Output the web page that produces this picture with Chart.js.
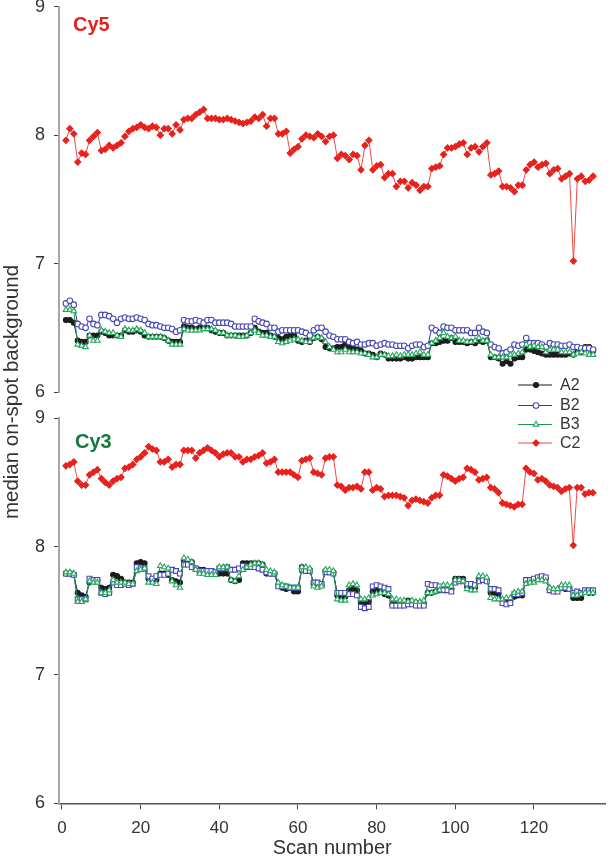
<!DOCTYPE html>
<html><head><meta charset="utf-8">
<script src="https://cdn.jsdelivr.net/npm/chart.js@4.4.1/dist/chart.umd.min.js"></script>
<style>
html,body{margin:0;padding:0;background:#fff;}
#wrap{position:relative;width:610px;height:858px;}
#wrap canvas{position:absolute;left:0;top:0;}
</style></head><body>
<div id="wrap"><canvas id="cTop" width="610" height="858"></canvas><canvas id="cBot" width="610" height="858"></canvas></div>
<script>
// ---------- data ----------
const scans = Array.from({length:135}, (_, i) => i + 1);
const xTicks = [0, 20, 40, 60, 80, 100, 120];
const yTicks = [6, 7, 8, 9];
const seriesNames = ['A2', 'B2', 'B3', 'C2'];

const cy5_A2 = [6.56,6.56,6.54,6.40,6.39,6.39,6.44,6.44,6.44,6.47, 6.46,6.44,6.44,6.44,6.44,6.48,6.47,6.47,6.48,6.47, 6.44,6.43,6.43,6.43,6.43,6.42,6.40,6.39,6.39,6.39, 6.51,6.50,6.50,6.49,6.50,6.50,6.50,6.48,6.47,6.46, 6.46,6.44,6.44,6.44,6.44,6.44,6.44,6.46,6.50,6.47, 6.46,6.46,6.44,6.43,6.42,6.41,6.43,6.44,6.44,6.40, 6.39,
  6.40,6.39,6.42,6.43,6.41,6.35,6.34,6.34,6.35, 6.35,6.37,6.35,6.34,6.33,6.32,6.30,6.30,6.29,6.27, 6.30,6.29,6.26,6.26,6.26,6.26,6.27,6.26,6.26,6.27, 6.27,6.27,6.27,6.38,6.38,6.39,6.40,6.40,6.42,6.39, 6.39,6.39,6.38,6.39,6.38,6.40,6.39,6.40,6.27,6.27, 6.26,6.22,6.24,6.22,6.26,6.27,6.27,6.33,6.33,6.32, 6.31,6.30,6.29,6.29,6.29,6.29,6.29,6.29,6.30,6.29, 6.31,6.31,6.35,6.35,6.32];
const cy5_B2 = [6.69,6.71,6.68,6.53,6.51,6.50,6.57,6.53,6.52,6.60, 6.60,6.59,6.57,6.54,6.57,6.58,6.57,6.57,6.58,6.57, 6.56,6.53,6.52,6.52,6.51,6.50,6.50,6.49,6.47,6.48, 6.56,6.55,6.55,6.56,6.55,6.54,6.56,6.56,6.54,6.54, 6.54,6.54,6.53,6.51,6.51,6.51,6.51,6.51,6.57,6.55, 6.54,6.53,6.50,6.50,6.47,6.48,6.48,6.48,6.48,6.48, 6.47,
  6.46,6.44,6.48,6.50,6.50,6.47,6.44,6.43,6.41, 6.41,6.41,6.39,6.38,6.39,6.37,6.37,6.38,6.38,6.36, 6.37,6.38,6.37,6.37,6.36,6.36,6.36,6.34,6.36,6.37, 6.37,6.35,6.36,6.50,6.48,6.46,6.51,6.50,6.50,6.48, 6.48,6.48,6.48,6.46,6.46,6.50,6.47,6.46,6.37,6.35, 6.34,6.30,6.31,6.33,6.37,6.36,6.37,6.42,6.38,6.38, 6.38,6.37,6.35,6.38,6.37,6.37,6.36,6.36,6.37,6.35, 6.35,6.34,6.34,6.34,6.33];
const cy5_B3 = [6.64,6.64,6.63,6.37,6.36,6.35,6.44,6.40,6.40,6.48, 6.47,6.46,6.46,6.44,6.43,6.49,6.48,6.48,6.49,6.48, 6.46,6.43,6.43,6.43,6.43,6.42,6.40,6.37,6.37,6.37, 6.49,6.48,6.48,6.48,6.48,6.49,6.49,6.49,6.48,6.46, 6.46,6.44,6.44,6.44,6.43,6.43,6.44,6.46,6.48,6.46, 6.44,6.44,6.43,6.43,6.39,6.38,6.39,6.40,6.41,6.41, 6.40,
  6.39,6.39,6.42,6.43,6.42,6.39,6.35,6.33,6.31, 6.31,6.33,6.31,6.31,6.31,6.30,6.30,6.29,6.27,6.27, 6.29,6.29,6.28,6.28,6.29,6.28,6.29,6.29,6.29,6.30, 6.31,6.29,6.29,6.38,6.40,6.42,6.46,6.43,6.42,6.43, 6.40,6.40,6.39,6.39,6.40,6.42,6.40,6.40,6.29,6.27, 6.27,6.27,6.27,6.29,6.29,6.30,6.31,6.37,6.35,6.36, 6.35,6.35,6.31,6.33,6.33,6.33,6.31,6.31,6.31,6.29, 6.30,6.31,6.30,6.29,6.29];
const cy5_C2 = [7.96,8.05,8.01,7.79,7.86,7.85,7.96,7.99,8.02,7.88, 7.89,7.92,7.90,7.92,7.94,7.99,8.03,8.05,8.06,8.08, 8.06,8.05,8.07,8.06,8.00,8.05,8.05,8.01,8.08,8.04, 8.12,8.13,8.13,8.16,8.18,8.20,8.13,8.13,8.13,8.12, 8.12,8.13,8.12,8.11,8.10,8.09,8.10,8.11,8.14,8.13, 8.16,8.07,8.13,8.13,8.01,8.01,8.03,7.86,7.89,7.91, 7.97,8.00,7.99,7.98,8.01,7.99,7.95,7.99,8.00,7.82, 7.85,7.84,7.81,7.85,7.84,7.73,7.92,7.96,7.73,7.76, 7.77,7.67,7.70,7.70,7.60,7.64,7.64,7.59,7.63,7.61, 7.57,7.60,7.60,7.74,7.75,7.76,7.85,7.90,7.90,7.91, 7.93,7.94,7.85,7.90,7.91,7.87,7.91,7.94,7.69,7.70, 7.72,7.60,7.60,7.59,7.56,7.61,7.61,7.73,7.77,7.79, 7.75,7.77,7.78,7.70,7.73,7.74,7.66,7.68,7.70,7.02, 7.66,7.68,7.64,7.65,7.68];

const cy3_A2 = [7.79,7.79,7.78,7.64,7.62,7.61,7.72,7.74,7.74,7.68, 7.67,7.68,7.78,7.77,7.75,7.72,7.72,7.72,7.87,7.88, 7.87,7.75,7.74,7.74,7.79,7.79,7.78,7.74,7.73,7.72, 7.89,7.88,7.88,7.83,7.82,7.82,7.79,7.80,7.79,7.79, 7.79,7.79,7.74,7.73,7.74,7.87,7.87,7.87,7.87,7.87, 7.86,7.79,7.79,7.79,7.70,7.68,7.67,7.68,7.65,7.65, 7.84,
  7.82,7.82, 7.71,7.71,7.70, 7.81,7.80,7.80, 7.62,7.61,7.61, 7.66,7.67,7.66, 7.56,7.56,7.57, 7.65,7.66,7.65,7.63,7.62, 7.55,7.55,7.55,7.56,7.58,7.57,7.56,7.56,7.56, 7.64,7.64,7.65,7.66, 7.68,7.68,7.67, 7.75,7.75,7.75, 7.69,7.69,7.68, 7.75,7.74,7.74, 7.64,7.64,7.63, 7.58,7.57,7.58, 7.61,7.62,7.62, 7.73,7.74,7.74, 7.76,7.76,7.75, 7.67,7.66,7.66, 7.68,7.67,7.67, 7.60,7.60,7.60, 7.65,7.64,7.64];
const cy3_B2 = [7.79,7.79,7.78,7.59,7.59,7.59,7.75,7.74,7.74,7.64, 7.63,7.64,7.72,7.70,7.70,7.71,7.70,7.71,7.84,7.83, 7.83,7.77,7.75,7.77,7.78,7.78,7.79,7.82,7.81,7.79, 7.86,7.86,7.84,7.83,7.81,7.81,7.81,7.81,7.80,7.83, 7.83,7.84,7.82,7.82,7.83,7.85,7.84,7.84,7.84,7.83, 7.82,7.80,7.79,7.79,7.69,7.69,7.69,7.68,7.68,7.68, 7.82,
  7.81,7.81, 7.72,7.72,7.71, 7.80,7.80,7.79, 7.64,7.64,7.64, 7.63,7.63,7.62, 7.53,7.52,7.53, 7.69,7.70,7.69,7.68,7.67, 7.54,7.54,7.54,7.54,7.55,7.55,7.54,7.54,7.54, 7.71,7.70,7.70,7.69, 7.66,7.66,7.65, 7.72,7.73,7.73, 7.71,7.71,7.70, 7.73,7.74,7.73, 7.67,7.67,7.66, 7.56,7.55,7.56, 7.63,7.63,7.64, 7.74,7.74,7.75, 7.76,7.77,7.76, 7.66,7.65,7.65, 7.68,7.68,7.67, 7.64,7.65,7.64, 7.66,7.66,7.66];
const cy3_B3 = [7.80,7.80,7.79,7.57,7.57,7.59,7.73,7.72,7.72,7.64, 7.64,7.66,7.74,7.72,7.72,7.72,7.71,7.71,7.81,7.82, 7.83,7.72,7.72,7.71,7.85,7.84,7.83,7.73,7.70,7.68, 7.91,7.90,7.88,7.82,7.79,7.79,7.78,7.78,7.78,7.84, 7.84,7.84,7.74,7.73,7.77,7.82,7.84,7.86,7.87,7.87, 7.86,7.82,7.81,7.80,7.72,7.70,7.69,7.68,7.68,7.68, 7.84,
  7.84,7.83, 7.69,7.68,7.69, 7.82,7.82,7.81, 7.59,7.58,7.58, 7.70,7.71,7.70, 7.59,7.59,7.60, 7.62,7.63,7.64,7.64,7.63, 7.59,7.59,7.58,7.58,7.57,7.58,7.57,7.57,7.58, 7.64,7.64,7.65,7.66, 7.70,7.70,7.69, 7.74,7.74,7.73, 7.67,7.66,7.66, 7.77,7.77,7.76, 7.60,7.59,7.59, 7.59,7.60,7.60, 7.64,7.65,7.65, 7.71,7.72,7.72, 7.74,7.74,7.73, 7.68,7.67,7.67, 7.70,7.70,7.70, 7.62,7.62,7.63, 7.64,7.64,7.64];
const cy3_C2 = [8.63,8.64,8.66,8.51,8.48,8.48,8.56,8.58,8.60,8.53, 8.50,8.48,8.51,8.53,8.54,8.61,8.62,8.64,8.68,8.70, 8.73,8.78,8.76,8.75,8.66,8.66,8.68,8.62,8.64,8.64, 8.75,8.75,8.75,8.69,8.73,8.75,8.77,8.75,8.73,8.70, 8.72,8.73,8.73,8.70,8.70,8.66,8.68,8.68,8.70,8.71, 8.73,8.65,8.66,8.68,8.58,8.58,8.58,8.58,8.56,8.54, 8.67,8.68,8.69,8.58,8.57,8.56,8.69,8.70,8.70,
  8.48,8.47,8.44,8.46,8.46,8.47,8.45,8.58,8.58,8.44, 8.46,8.45,8.39,8.40,8.40,8.40,8.39,8.38,8.32,8.36, 8.37,8.36,8.35,8.34,8.38,8.40,8.40,8.56,8.55,8.53, 8.51,8.53,8.54,8.61,8.60,8.58,8.52,8.53,8.54,8.46, 8.45,8.42,8.34,8.33,8.32,8.31,8.33,8.33,8.61,8.58, 8.57,8.52,8.53,8.51,8.48,8.47,8.46,8.43,8.45,8.46, 8.01,8.46,8.46,8.41,8.42,8.42];

// ---------- styles ----------
const FONT = "'Liberation Sans', Arial, Helvetica, sans-serif";
Chart.defaults.font.family = FONT;
Chart.defaults.color = '#333';

const styleOf = {
  A2: {borderColor:'#1c1c1c', pointStyle:'circle', pointRadius:2.5, pointBackgroundColor:'#1c1c1c', pointBorderColor:'#1c1c1c', order:4},
  B2: {borderColor:'#3a3a9a', pointStyle:'circle', pointRadius:2.8, pointBackgroundColor:'#ffffff', pointBorderColor:'#4848b4', order:3},
  B3: {borderColor:'#1f9650', pointStyle:'triangle', pointRadius:3.2, pointBackgroundColor:'#ffffff', pointBorderColor:'#27a85e', order:2},
  C2: {borderColor:'#ee4a44', pointStyle:'rectRot', pointRadius:3.1, pointBackgroundColor:'#e8211d', pointBorderColor:'#e8211d', order:1}
};
function ds(name, data, extra) {
  return Object.assign({label:name, data:data, fill:false, tension:0, borderWidth:1, pointBorderWidth:1.1, pointHoverRadius:3}, styleOf[name], extra || {});
}

const X_MIN = -0.76, X_MAX = 138.2;

function yScale() {
  return {
    type:'linear', min:6, max:9,
    ticks:{stepSize:1, padding:9, font:{size:18}, color:'#333'},
    afterBuildTicks: s => { s.ticks = yTicks.map(v => ({value:v})); },
    grid:{display:true, drawOnChartArea:false, drawTicks:true, tickLength:5, color:'#444', lineWidth:1},
    border:{display:true, color:'#a6a6a6', width:2},
    afterFit: s => { s.width = 59; s.paddingTop = 0; s.paddingBottom = 0; s.paddingLeft = 0; s.paddingRight = 0; }
  };
}

function drawPanelLabel(ctx, text, color, x, y) {
  ctx.save();
  ctx.font = "bold 20px " + FONT;
  ctx.fillStyle = color;
  ctx.textAlign = 'left';
  ctx.textBaseline = 'alphabetic';
  ctx.fillText(text, x, y);
  ctx.restore();
}

const topDecor = {
  id:'topDecor',
  afterDraw(chart) {
    const ctx = chart.ctx;
    drawPanelLabel(ctx, 'Cy5', '#e2231d', 73, 30.5);
    // y-axis title spanning both panels
    ctx.save();
    ctx.translate(12, 392);
    ctx.rotate(-Math.PI / 2);
    ctx.font = "20.5px " + FONT;
    ctx.fillStyle = '#333';
    ctx.textAlign = 'center';
    ctx.textBaseline = 'middle';
    ctx.fillText('median on-spot background', 0, 0);
    ctx.restore();
    // legend
    const ys = [385, 405.5, 424.5, 443];
    chart.data.datasets.forEach((d, i) => {
      const y = ys[i];
      ctx.save();
      ctx.strokeStyle = d.borderColor;
      ctx.lineWidth = 1.2;
      ctx.beginPath(); ctx.moveTo(518, y); ctx.lineTo(552, y); ctx.stroke();
      ctx.fillStyle = d.pointBackgroundColor;
      ctx.strokeStyle = d.pointBorderColor;
      ctx.lineWidth = 1.1;
      Chart.helpers.drawPoint(ctx, {pointStyle:d.pointStyle, radius:d.pointRadius, rotation:0, borderWidth:1.1}, 536, y);
      ctx.font = "16px " + FONT;
      ctx.fillStyle = '#333';
      ctx.textAlign = 'left';
      ctx.textBaseline = 'middle';
      ctx.fillText(d.label, 560, y + 0.5);
      ctx.restore();
    });
  }
};
const botDecor = {
  id:'botDecor',
  afterDraw(chart) { drawPanelLabel(chart.ctx, 'Cy3', '#137a3e', 75, 448); }
};

const commonPlugins = {legend:{display:false}, tooltip:{enabled:false}};

new Chart(document.getElementById('cTop'), {
  type:'line',
  data:{labels:scans, datasets:[ds('A2', cy5_A2), ds('B2', cy5_B2), ds('B3', cy5_B3), ds('C2', cy5_C2)]},
  options:{
    responsive:false, animation:false, devicePixelRatio:1,
    layout:{padding:{left:0, right:0, top:6.7, bottom:466}},
    plugins:commonPlugins,
    scales:{
      x:{type:'linear', min:X_MIN, max:X_MAX, display:false},
      y:yScale()
    }
  },
  plugins:[topDecor]
});

new Chart(document.getElementById('cBot'), {
  type:'line',
  data:{labels:scans, datasets:[ds('A2', cy3_A2), ds('B2', cy3_B2, {pointStyle:'rect', pointRadius:3.4}), ds('B3', cy3_B3), ds('C2', cy3_C2)]},
  options:{
    responsive:false, animation:false, devicePixelRatio:1,
    layout:{padding:{left:0, right:0, top:418.3, bottom:0}},
    plugins:commonPlugins,
    scales:{
      x:{
        type:'linear', min:X_MIN, max:X_MAX,
        ticks:{stepSize:20, includeBounds:false, padding:8.5, font:{size:17}, color:'#333', maxRotation:0, autoSkip:false},
        afterBuildTicks: s => { s.ticks = xTicks.map(v => ({value:v})); },
        grid:{display:true, drawOnChartArea:false, drawTicks:true, tickLength:6, color:'#444', lineWidth:1},
        border:{display:true, color:'#555', width:1.5},
        title:{display:true, text:'Scan number', font:{size:20, lineHeight:1}, padding:0, color:'#333'},
        afterFit: s => { s.height = 54.7; s.paddingLeft = 0; s.paddingRight = 0; s.paddingTop = 0; s.paddingBottom = 0; }
      },
      y:yScale()
    }
  },
  plugins:[botDecor]
});
</script>
</body></html>
